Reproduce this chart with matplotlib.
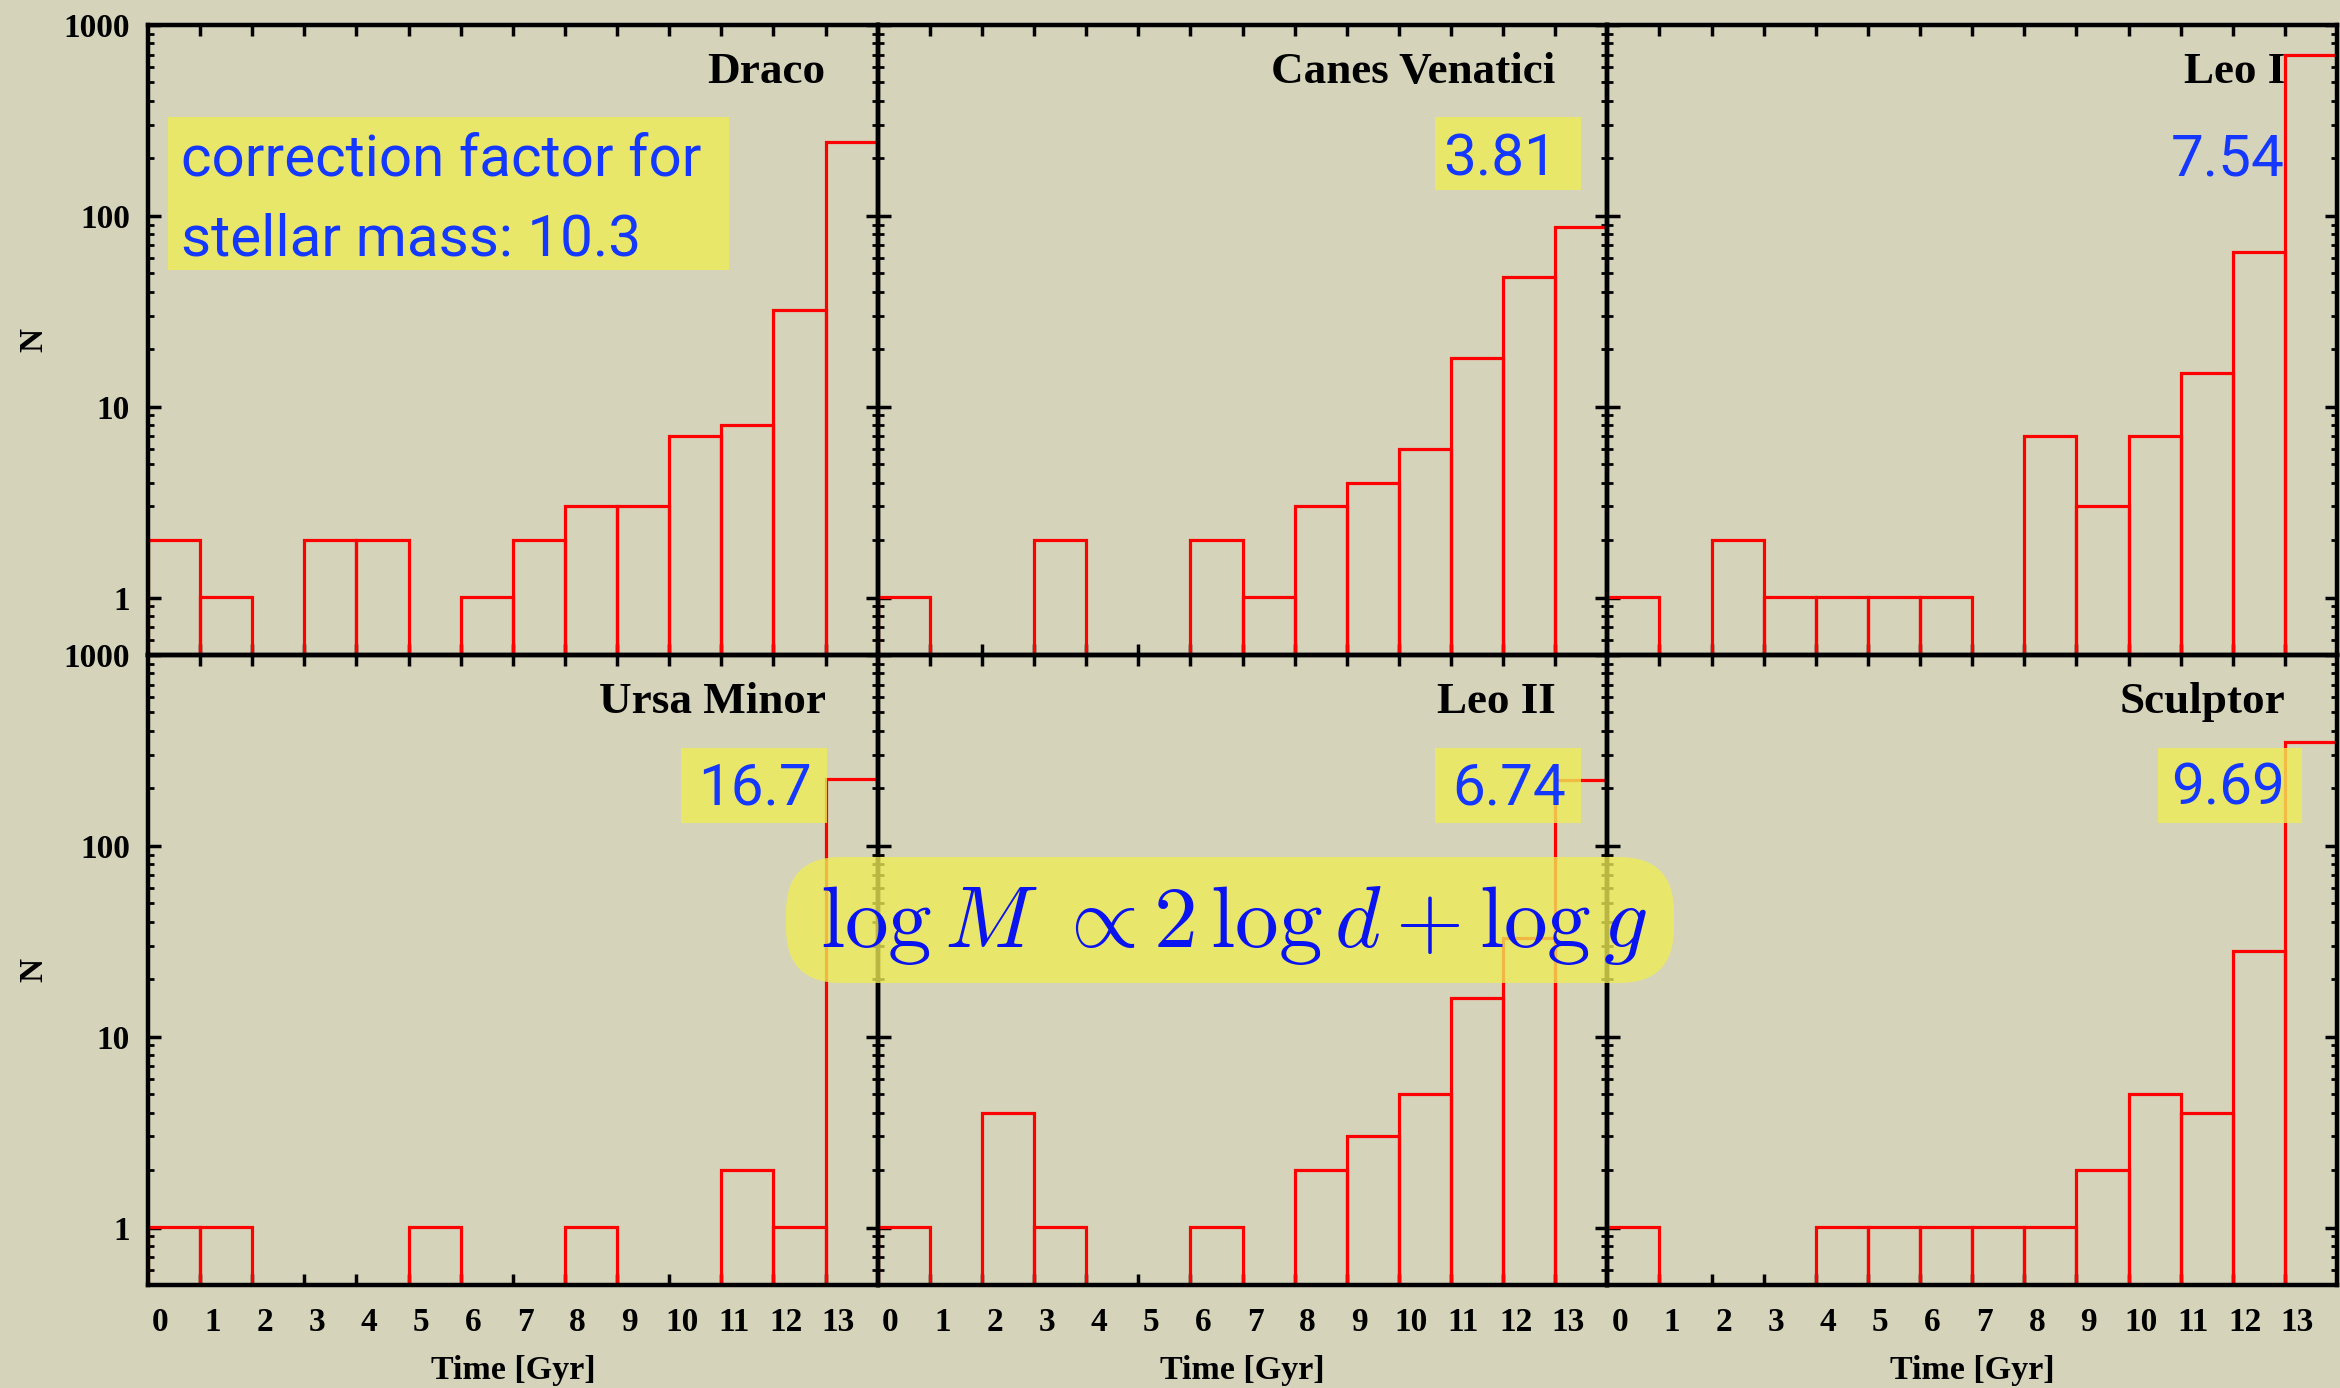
import numpy as np
import matplotlib
matplotlib.use("Agg")
import matplotlib.pyplot as plt
from matplotlib.patches import Rectangle, FancyBboxPatch
from matplotlib.ticker import LogLocator, NullFormatter, FixedLocator, FixedFormatter
import matplotlib.transforms as mtransforms

# figure size in pixels
W, H = 2340, 1388

# data: star counts per 1 Gyr bin
bins = np.arange(14)
galaxies = ["Draco", "Canes Venatici", "Leo I", "Ursa Minor", "Leo II", "Sculptor"]
draco = [2, 1, 0, 2, 2, 0, 1, 2, 3, 3, 7, 8, 32, 245]
canes_venatici = [1, 0, 0, 2, 0, 0, 2, 1, 3, 4, 6, 18, 48, 87]
leo_1 = [1, 0, 2, 1, 1, 1, 1, 0, 7, 3, 7, 15, 65, 700]
ursa_minor = [1, 1, 0, 0, 0, 1, 0, 0, 1, 0, 0, 2, 1, 225]
leo_2 = [1, 0, 4, 1, 0, 0, 1, 0, 2, 3, 5, 16, 33, 220]
sculptor = [1, 0, 0, 0, 1, 1, 1, 1, 1, 2, 5, 4, 28, 350]
counts = [draco, canes_venatici, leo_1, ursa_minor, leo_2, sculptor]
factors = ["10.3", "3.81", "7.54", "16.7", "6.74", "9.69"]
ytick_vals = [1, 10, 100, 1000]
ytick_labels = ["1", "10", "100", "1000"]
xtick_labels = [str(i) for i in bins]

bg = "#d5d4ba"
yellow = "#eeec55"
blue = "#1438ff"
serif = "Liberation Serif"

fig = plt.figure(figsize=(W / 100, H / 100), dpi=100)
fig.patch.set_facecolor(bg)

# panel layout (pixels)
lefts = [148, 877.7, 1607.3]
tops = [25, 655]
pw, ph = 729.7, 630

# factor text placement: right edge x (data)
text_x = [None, 13.04, 13.0, 12.74, 13.2, 13.0]
# yellow boxes: (left px, right px, top px, bottom px) relative to panel
boxes = [(20, 581, 92, 245), (557, 703, 92, 165), None,
         (533, 679, 93, 168), (557, 703, 93, 168), (551, 695, 93, 168)]

for k in range(6):
    row, col = divmod(k, 3)
    ax = fig.add_axes([lefts[col] / W, 1 - (tops[row] + ph) / H, pw / W, ph / H])
    ax.set_facecolor("none")
    ax.set_yscale("log")

    ax.bar(bins, counts[k], width=1, align="edge", bottom=1e-3, fill=False,
           edgecolor="#ff0000", linewidth=2.3, zorder=2)

    ax.set_xlim(0, 14)
    ax.set_ylim(0.5, 1000)

    for s in ax.spines.values():
        s.set_linewidth(3.2)

    ax.yaxis.set_major_locator(FixedLocator(ytick_vals))
    ax.yaxis.set_minor_locator(LogLocator(base=10, subs=np.arange(2, 10)))
    ax.yaxis.set_minor_formatter(NullFormatter())
    ax.tick_params(axis="y", which="major", direction="in", length=9, width=2.5,
                   left=True, right=True, pad=13, labelsize=24)
    ax.tick_params(axis="y", which="minor", direction="in", length=4, width=2,
                   left=True, right=True)
    if col == 0:
        ax.yaxis.set_major_formatter(FixedFormatter(ytick_labels))
        ax.set_ylabel("N", fontsize=24, fontfamily=serif, fontweight="bold")
        ax.yaxis.set_label_coords(-0.157, 0.5)
        ax.yaxis.label.set_va("center")
    else:
        ax.yaxis.set_major_formatter(NullFormatter())
    for lab in ax.get_yticklabels():
        lab.set_fontfamily(serif)
        lab.set_fontweight("bold")

    # x ticks at bin edges, labels slightly right of them
    ax.set_xticks(bins[1:])
    ax.set_xticklabels([])
    ax.tick_params(axis="x", which="major", direction="in", length=8, width=2.5,
                   top=True, bottom=True)
    if row == 1:
        ax.set_xticks(bins + 0.24, minor=True)
        ax.set_xticklabels(xtick_labels, minor=True)
        ax.tick_params(axis="x", which="minor", length=0, pad=16, labelsize=24)
        for lab in ax.get_xticklabels(minor=True):
            lab.set_fontfamily(serif)
            lab.set_fontweight("bold")
        ax.set_xlabel("Time [Gyr]", fontsize=24.5, fontfamily=serif, fontweight="bold")
        ax.xaxis.set_label_coords(0.5, -0.135)
        ax.xaxis.label.set_va("center")
    else:
        ax.xaxis.set_minor_locator(FixedLocator([]))

    trans = mtransforms.blended_transform_factory(ax.transData, ax.transAxes)
    ax.text(13, 0.908, galaxies[k], transform=trans, ha="right", va="baseline",
            fontsize=32.5, fontfamily=serif, fontweight="bold", zorder=5)

    if boxes[k] is not None:
        x0, x1, y0, y1 = boxes[k]
        ax.add_patch(Rectangle((x0 / pw, 1 - y1 / ph), (x1 - x0) / pw, (y1 - y0) / ph,
                               transform=ax.transAxes, facecolor=yellow, alpha=0.8,
                               edgecolor="none", zorder=4, clip_on=False))
    if k == 0:
        ax.text(33 / pw, 1 - 150 / ph, "correction factor for", transform=ax.transAxes,
                ha="left", va="baseline", fontsize=42, fontfamily="Roboto",
                color=blue, zorder=6)
        ax.text(33 / pw, 1 - 230 / ph, "stellar mass: " + factors[k],
                transform=ax.transAxes, ha="left", va="baseline", fontsize=42,
                fontfamily="Roboto", color=blue, zorder=6)
    else:
        ax.text(text_x[k], 1 - 150 / ph, factors[k], transform=trans,
                ha="right", va="baseline", fontsize=42, fontfamily="Roboto",
                color=blue, zorder=6)

# formula box across the lower panels
plt.rcParams["mathtext.fontset"] = "cm"
box = FancyBboxPatch((7.86, (H - 983) / 100), 8.88, 1.26,
                     boxstyle="round,pad=0,rounding_size=0.55",
                     transform=fig.dpi_scale_trans, facecolor=yellow, alpha=0.78,
                     edgecolor="none", zorder=10)
fig.add_artist(box)
fig.text(1234 / W, 1 - 947 / H, r"$\log M\ \propto 2\,\log d + \log g$",
         ha="center", va="baseline", fontsize=63, color="#0a14f0", zorder=11)

fig.savefig("out.png", dpi=100, facecolor=bg)
